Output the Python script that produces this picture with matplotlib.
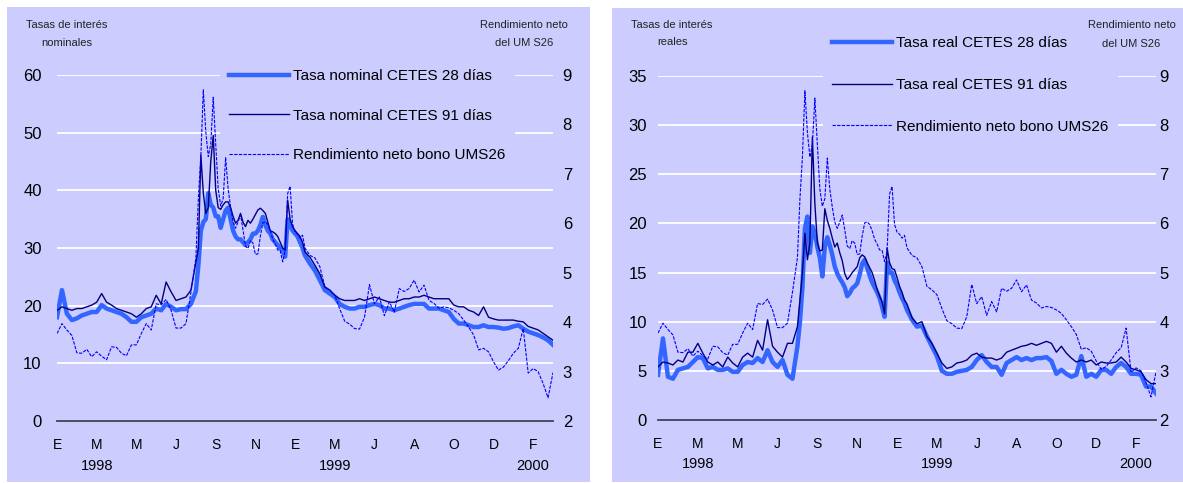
import numpy as np
import matplotlib.pyplot as plt
from matplotlib.patches import Rectangle

plt.rcParams['font.family'] = ['Liberation Sans', 'DejaVu Sans']
plt.rcParams['legend.fancybox'] = False

# Meses transcurridos desde enero de 1998 (paso mas fino durante la crisis de 1998)
meses = np.concatenate([np.arange(0, 7, 0.25), np.arange(7, 12.5, 0.125), np.arange(12.5, 25.01, 0.25)])

# Tasas nominales (%)
nominal_28 = [
    18.0, 22.7, 18.6, 17.5, 17.8, 18.3, 18.6, 18.9, 18.9, 20.1, 19.5, 19.2, 18.9, 18.6,
    18.0, 17.2, 17.2, 18.0, 18.3, 18.6, 19.5, 19.2, 20.3, 19.8, 19.2, 19.4, 19.4, 20.3,
    22.5, 27.0, 33.0, 34.5, 35.0, 39.5, 37.5, 37.0,
    35.5, 35.5, 33.5, 35.0, 36.5, 37.0, 35.0, 33.0,
    32.0, 31.5, 31.5, 31.0, 30.5, 31.0, 31.5, 32.5,
    32.5, 33.0, 34.0, 35.4, 34.0, 33.0, 32.5, 31.5,
    31.0, 30.5, 30.0, 29.5, 28.5, 35.0, 34.0, 33.0,
    32.5, 32.0, 31.0, 30.0,
    28.7, 27.3, 26.1, 24.4, 22.7, 22.1, 21.5, 20.3, 19.8, 19.5, 19.5, 19.8, 19.8, 20.1,
    20.3, 20.1, 19.5, 19.5, 19.2, 19.5, 19.8, 20.1, 20.3, 20.3, 20.3, 19.5, 19.5, 19.5,
    19.2, 18.9, 17.7, 16.9, 16.9, 16.6, 16.3, 16.3, 16.6, 16.3, 16.3, 16.2, 16.0, 16.1,
    16.4, 16.6, 16.0, 15.5, 15.2, 14.9, 14.5, 14.0, 13.2,
]
nominal_91 = [
    19.2, 19.8, 19.5, 19.2, 19.5, 19.5, 19.8, 20.1, 20.6, 22.1, 20.6, 20.1, 19.5, 19.2,
    18.9, 18.6, 18.0, 18.6, 19.5, 19.8, 21.8, 20.3, 24.1, 22.4, 20.9, 21.2, 21.5, 22.7,
    27.5, 30.0, 46.1, 39.5, 36.0, 37.0, 45.0, 49.5,
    40.0, 37.0, 36.7, 37.5, 38.0, 38.0, 37.0, 35.5,
    34.3, 34.8, 36.0, 34.5, 33.7, 34.8, 34.3, 35.0,
    35.8, 36.6, 36.9, 36.5, 36.0, 34.5, 33.0, 32.8,
    32.5, 32.0, 31.0, 30.0, 29.6, 38.3, 35.0, 33.7,
    33.0, 32.5, 32.0, 31.0,
    29.3, 28.4, 27.0, 25.5, 23.2, 22.7, 21.8, 21.2, 20.9, 20.9, 20.9, 21.2, 20.9, 21.2,
    21.5, 21.2, 20.9, 20.6, 20.6, 20.9, 21.2, 21.2, 21.5, 21.5, 21.8, 21.5, 21.2, 21.2,
    21.2, 21.2, 20.1, 19.8, 19.8, 19.2, 18.9, 18.3, 19.8, 18.0, 17.7, 17.5, 17.5, 17.5,
    17.5, 17.3, 17.2, 16.4, 16.1, 15.8, 15.2, 14.6, 14.0,
]

# Tasas reales (%)
real_28 = [
    4.6, 8.3, 4.4, 4.2, 5.1, 5.25, 5.4, 5.9, 6.4, 6.3, 5.25, 5.4, 5.1, 5.1,
    5.25, 4.9, 4.9, 5.6, 5.9, 5.8, 6.3, 5.9, 7.1, 5.9, 5.4, 6.1, 4.6, 4.2,
    7.5, 10.0, 13.5, 19.5, 20.7, 17.0, 19.7, 19.0,
    17.6, 16.5, 14.6, 17.6, 18.6, 17.8, 16.8, 15.6,
    14.9, 14.4, 14.0, 13.5, 12.6, 12.9, 13.4, 13.6,
    13.9, 14.8, 15.9, 16.3, 15.5, 14.7, 14.0, 13.5,
    13.0, 12.4, 11.5, 10.5, 16.0, 15.0, 15.0, 14.2,
    13.7, 13.0, 12.4, 11.9,
    11.2, 10.2, 9.5, 9.6, 8.5, 7.5, 6.5, 5.0, 4.7, 4.7, 4.9, 5.0, 5.1, 5.4,
    6.1, 6.6, 5.9, 5.4, 5.4, 4.6, 5.8, 6.1, 6.4, 6.1, 6.3, 6.1, 6.3, 6.3,
    6.4, 6.0, 4.7, 5.1, 4.7, 4.4, 4.6, 6.5, 4.4, 4.7, 4.4, 5.1, 5.1, 4.7,
    5.4, 5.8, 5.4, 4.7, 4.7, 4.6, 3.4, 3.4, 2.7,
]
real_91 = [
    5.4, 5.9, 5.8, 5.6, 6.1, 5.9, 6.9, 6.9, 7.8, 6.8, 5.9, 5.6, 5.9, 5.4,
    6.4, 5.8, 5.4, 6.4, 6.8, 6.4, 8.1, 7.1, 10.2, 7.5, 6.9, 6.4, 7.8, 7.8,
    9.5, 12.2, 15.0, 19.0, 16.3, 18.0, 28.8, 22.0,
    18.0, 17.2, 17.3, 21.5, 20.3, 19.5, 18.5, 17.6,
    18.0, 17.0, 16.2, 14.9, 14.3, 14.6, 15.0, 15.3,
    15.6, 16.5, 16.8, 16.6, 16.0, 15.5, 15.0, 14.2,
    13.3, 12.6, 12.0, 10.8, 17.5, 16.0, 15.4, 15.3,
    14.5, 13.6, 13.0, 12.2,
    11.8, 10.4, 9.8, 10.0, 8.5, 7.8, 6.8, 5.8, 5.25, 5.4, 5.8, 5.9, 6.1, 6.6,
    6.8, 6.4, 6.3, 6.3, 6.1, 6.3, 6.9, 7.1, 7.3, 7.5, 7.6, 7.8, 7.6, 7.8,
    8.0, 7.8, 6.9, 7.5, 6.8, 6.3, 5.9, 6.1, 5.9, 6.1, 5.6, 5.9, 5.8, 5.8,
    5.9, 6.4, 5.9, 5.25, 5.1, 4.9, 4.1, 3.7, 3.7,
]

# Rendimiento neto del bono UMS26 (%), eje derecho
ums26 = [
    3.77, 3.97, 3.84, 3.73, 3.38, 3.37, 3.45, 3.30, 3.40, 3.31, 3.24, 3.50, 3.49, 3.37,
    3.32, 3.54, 3.54, 3.77, 3.97, 3.84, 4.37, 4.35, 4.46, 4.24, 3.88, 3.88, 3.97, 4.60,
    5.30, 6.50, 7.35, 8.70, 7.85, 7.35, 7.60, 8.55,
    7.60, 6.70, 6.35, 6.50, 7.33, 6.70, 6.33, 6.03,
    5.90, 6.03, 6.17, 5.87, 5.54, 5.49, 5.65, 5.60,
    5.37, 5.38, 5.74, 6.01, 6.03, 5.98, 5.85, 5.68,
    5.58, 5.46, 5.45, 5.22, 5.44, 6.60, 6.75, 5.98,
    5.82, 5.78, 5.70, 5.76,
    5.50, 5.35, 5.30, 5.12, 4.72, 4.65, 4.55, 4.27, 4.02, 3.96, 3.87, 3.86, 4.10, 4.76,
    4.37, 4.51, 4.13, 4.41, 4.20, 4.68, 4.62, 4.68, 4.85, 4.61, 4.75, 4.44, 4.38, 4.28,
    4.31, 4.29, 4.24, 4.17, 4.04, 3.90, 3.74, 3.44, 3.47, 3.40, 3.20, 3.03, 3.09, 3.22,
    3.37, 3.47, 3.87, 2.97, 3.06, 3.00, 2.76, 2.47, 2.98,
]

letras_meses = ['E', 'M', 'M', 'J', 'S', 'N', 'E', 'M', 'J', 'A', 'O', 'D', 'F']
anios = ['1998', '1999', '2000']
pos_anios = [2, 14, 24]

fondo = '#CCCCFF'
W, H = 1183, 483
fig = plt.figure(figsize=(W / 100, H / 100), dpi=100)

# fondos de cada recuadro
fig.add_artist(Rectangle((7 / W, 1 / H), 583 / W, 475 / H, transform=fig.transFigure,
                         facecolor=fondo, edgecolor='none', zorder=-5))
fig.add_artist(Rectangle((612 / W, 1 / H), 571 / W, 474 / H, transform=fig.transFigure,
                         facecolor=fondo, edgecolor='none', zorder=-5))


def panel(pos, serie28, serie91, ymax, paso, etiquetas, pad_izq, pad_der,
          pos_leyenda, sep):
    ax = fig.add_axes(pos)
    ax.patch.set_visible(False)
    ax.set_xlim(0, 25)
    ax.set_ylim(0, ymax)
    ax.set_yticks(np.arange(0, ymax + 1, paso))
    ax.yaxis.grid(True, color='white', lw=1.3)
    ax.set_axisbelow(True)
    for s in ['top', 'right', 'left']:
        ax.spines[s].set_visible(False)
    ax.spines['bottom'].set_color('#404055')
    ax.spines['bottom'].set_linewidth(1.3)
    ax.set_xticks(np.arange(0, 25, 2), letras_meses)
    ax.tick_params(length=0)
    ax.tick_params(axis='x', labelsize=10, pad=12)
    ax.tick_params(axis='y', labelsize=12, pad=pad_izq)
    for x, a in zip(pos_anios, anios):
        ax.annotate(a, (x, 0), xycoords=('data', 'axes fraction'), xytext=(0, -27),
                    textcoords='offset points', ha='center', va='top', fontsize=10.5)

    l28, = ax.plot(meses, serie28, color='#3366FF', lw=3.2)
    l91, = ax.plot(meses, serie91, color='#000080', lw=1.0)

    ax2 = ax.twinx()
    ax2.set_ylim(2, 9)
    ax2.set_yticks(range(2, 10))
    for s in ax2.spines.values():
        s.set_visible(False)
    ax2.tick_params(length=0, labelsize=12, pad=pad_der)
    lu, = ax2.plot(meses, ums26, color='#0000FF', lw=0.8, ls=(0, (3, 1.2)))

    leg = ax.legend([l28, l91, lu], etiquetas, loc='upper left', bbox_to_anchor=pos_leyenda,
                    bbox_transform=fig.transFigure, facecolor=fondo, edgecolor='none',
                    framealpha=1, fontsize=11, labelspacing=sep, handlelength=3.9,
                    handletextpad=0.3, borderpad=0.6, borderaxespad=0)
    leg.set_zorder(1)
    return ax


panel([57 / W, 62 / H, 496 / W, 346 / H], nominal_28, nominal_91, 60, 10,
      ['Tasa nominal CETES 28 días', 'Tasa nominal CETES 91 días', 'Rendimiento neto bono UMS26'],
      11, 7, (220 / W, 1 - 60 / H), 1.66)
panel([658 / W, 63 / H, 498 / W, 344 / H], real_28, real_91, 35, 5,
      ['Tasa real CETES 28 días', 'Tasa real CETES 91 días', 'Rendimiento neto bono UMS26'],
      8, 2.5, (823 / W, 1 - 27 / H), 1.82)

# titulos de los ejes
tit = dict(ha='center', va='center', fontsize=8, color='#222222')
fig.text(67 / W, 1 - 25 / H, 'Tasas de interés', **tit)
fig.text(67 / W, 1 - 43 / H, 'nominales', **tit)
fig.text(524 / W, 1 - 25 / H, 'Rendimiento neto', **tit)
fig.text(524 / W, 1 - 43 / H, 'del UM S26', **tit)
fig.text(672 / W, 1 - 25 / H, 'Tasas de interés', **tit)
fig.text(673 / W, 1 - 42 / H, 'reales', **tit)
fig.text(1132 / W, 1 - 25 / H, 'Rendimiento neto', **tit)
fig.text(1131 / W, 1 - 44 / H, 'del UM S26', **tit)

fig.savefig('out.png', dpi=100)
